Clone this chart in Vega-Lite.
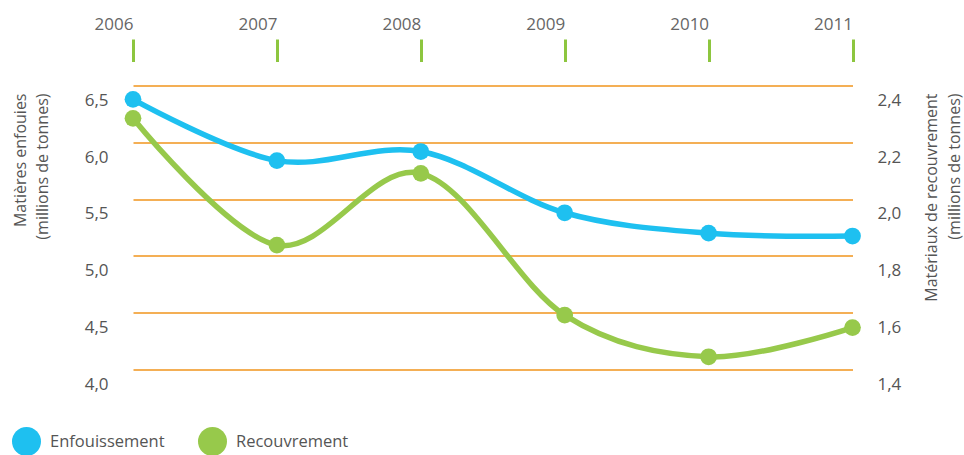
{
  "$schema": "https://vega.github.io/schema/vega-lite/v6.json",
  "autosize": "none",
  "width": 719.5,
  "height": 283.5,
  "padding": {"left": 133, "top": 100.5, "right": 111.5, "bottom": 71},
  "background": "white",
  "config": {
    "view": {"stroke": null},
    "font": "Open Sans",
    "axis": {"labelFont": "Open Sans", "titleFont": "Open Sans", "labelColor": "#555555", "titleColor": "#555555", "titleFontWeight": "normal"},
    "legend": {"labelFont": "Open Sans", "labelColor": "#555555"}
  },
  "data": {
    "values": [
      {"annee": 2006, "serie": "Enfouissement", "valeur": 6.51},
      {"annee": 2007, "serie": "Enfouissement", "valeur": 5.97},
      {"annee": 2008, "serie": "Enfouissement", "valeur": 6.05},
      {"annee": 2009, "serie": "Enfouissement", "valeur": 5.51},
      {"annee": 2010, "serie": "Enfouissement", "valeur": 5.33},
      {"annee": 2011, "serie": "Enfouissement", "valeur": 5.305},
      {"annee": 2006, "serie": "Recouvrement", "valeur": 2.337},
      {"annee": 2007, "serie": "Recouvrement", "valeur": 1.89},
      {"annee": 2008, "serie": "Recouvrement", "valeur": 2.143},
      {"annee": 2009, "serie": "Recouvrement", "valeur": 1.643},
      {"annee": 2010, "serie": "Recouvrement", "valeur": 1.496},
      {"annee": 2011, "serie": "Recouvrement", "valeur": 1.599}
    ]
  },
  "encoding": {
    "x": {
      "field": "annee",
      "type": "quantitative",
      "scale": {"domain": [2006, 2011], "nice": false, "zero": false},
      "axis": {
        "orient": "top",
        "title": null,
        "values": [2006, 2007, 2008, 2009, 2010, 2011],
        "format": "d",
        "domain": false,
        "grid": false,
        "offset": 39,
        "ticks": true,
        "tickSize": 22.5,
        "tickWidth": 3,
        "tickColor": "#8dc63f",
        "labelAlign": "right",
        "labelFontSize": 17,
        "labelPadding": 6,
        "labelFlush": false,
        "labelOverlap": false,
        "labelColor": "#666666"
      }
    }
  },
  "layer": [
    {
      "transform": [{"filter": "datum.serie === 'Enfouissement'"}],
      "encoding": {
        "y": {
          "field": "valeur",
          "type": "quantitative",
          "scale": {"domain": [4.0, 6.5], "nice": false, "zero": false},
          "axis": {
            "orient": "left",
            "values": [4.0, 4.5, 5.0, 5.5, 6.0, 6.5],
            "labelExpr": "replace(format(datum.value, '.1f'), '.', ',')",
            "domain": false,
            "ticks": false,
            "grid": true,
            "gridColor": "#f0941c",
            "gridWidth": 1.4,
            "tickOffset": -14.8,
            "labelOffset": 14.8,
            "labelPadding": 25,
            "labelFontSize": 17,
            "title": ["Matières enfouies", "(millions de tonnes)"],
            "titleAngle": 270,
            "titleAlign": "right",
            "titleBaseline": "top",
            "titleX": -121,
            "titleY": -7.5,
            "titleFontSize": 16,
            "titleLineHeight": 22.5
          }
        }
      },
      "layer": [
        {
          "mark": {"type": "line", "interpolate": "cardinal", "color": "#1ec0f0", "strokeWidth": 5.5, "strokeCap": "round"}
        },
        {
          "mark": {"type": "point", "filled": true, "size": 280, "opacity": 1, "shape": "circle"},
          "encoding": {
            "color": {
              "field": "serie",
              "type": "nominal",
              "scale": {"domain": ["Enfouissement", "Recouvrement"], "range": ["#1ec0f0", "#97c94b"]},
              "legend": {
                "orient": "none",
                "legendX": -121,
                "legendY": 326.5,
                "direction": "horizontal",
                "title": null,
                "padding": 0,
                "symbolType": "circle",
                "symbolSize": 841,
                "symbolStrokeWidth": 0,
                "symbolOpacity": 1,
                "labelFontSize": 16.5,
                "labelOffset": 9,
                "columnPadding": 33
              }
            }
          }
        }
      ]
    },
    {
      "transform": [{"filter": "datum.serie === 'Recouvrement'"}],
      "encoding": {
        "y": {
          "field": "valeur",
          "type": "quantitative",
          "scale": {"domain": [1.4, 2.4], "nice": false, "zero": false},
          "axis": {
            "orient": "right",
            "values": [1.4, 1.6, 1.8, 2.0, 2.2, 2.4],
            "labelExpr": "replace(format(datum.value, '.1f'), '.', ',')",
            "domain": false,
            "ticks": false,
            "grid": false,
            "labelPadding": 24.5,
            "labelFontSize": 17,
            "title": ["Matériaux de recouvrement", "(millions de tonnes)"],
            "titleAngle": 270,
            "titleAlign": "right",
            "titleBaseline": "top",
            "titleX": 71,
            "titleY": -7.5,
            "titleFontSize": 16,
            "titleLineHeight": 22.5
          }
        }
      },
      "layer": [
        {
          "mark": {"type": "line", "interpolate": "cardinal", "color": "#97c94b", "strokeWidth": 5.5, "strokeCap": "round"}
        },
        {
          "mark": {"type": "point", "filled": true, "size": 280, "opacity": 1, "shape": "circle"},
          "encoding": {
            "color": {
              "field": "serie",
              "type": "nominal",
              "scale": {"domain": ["Enfouissement", "Recouvrement"], "range": ["#1ec0f0", "#97c94b"]},
              "legend": {
                "orient": "none",
                "legendX": -121,
                "legendY": 326.5,
                "direction": "horizontal",
                "title": null,
                "padding": 0,
                "symbolType": "circle",
                "symbolSize": 841,
                "symbolStrokeWidth": 0,
                "symbolOpacity": 1,
                "labelFontSize": 16.5,
                "labelOffset": 9,
                "columnPadding": 33
              }
            }
          }
        }
      ]
    }
  ],
  "resolve": {"scale": {"y": "independent"}, "axis": {"y": "independent"}}
}
